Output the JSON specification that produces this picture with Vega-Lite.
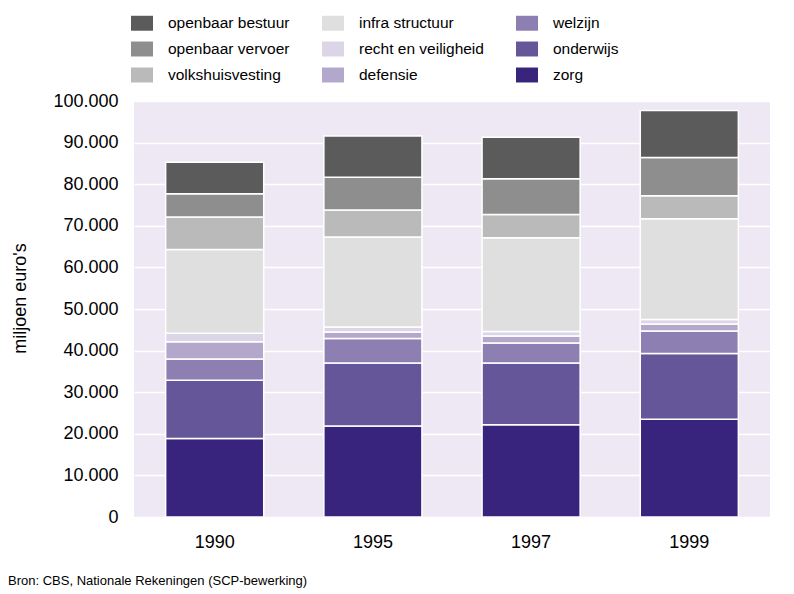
{
  "$schema": "https://vega.github.io/schema/vega-lite/v6.json",
  "width": 636,
  "height": 416,
  "autosize": "none",
  "padding": {"left": 134, "top": 101, "right": 24, "bottom": 77},
  "background": "white",
  "title": {
    "text": "Bron: CBS, Nationale Rekeningen (SCP-bewerking)",
    "orient": "bottom",
    "anchor": "start",
    "frame": "group",
    "dx": -126,
    "offset": 24,
    "font": "Liberation Sans",
    "fontSize": 13,
    "fontWeight": "normal",
    "color": "#000000"
  },
  "data": {
    "values": [
      {"jaar": "1990", "categorie": "zorg", "waarde": 18900, "volgorde": 1},
      {"jaar": "1990", "categorie": "onderwijs", "waarde": 14000, "volgorde": 2},
      {"jaar": "1990", "categorie": "welzijn", "waarde": 5100, "volgorde": 3},
      {"jaar": "1990", "categorie": "defensie", "waarde": 4100, "volgorde": 4},
      {"jaar": "1990", "categorie": "recht en veiligheid", "waarde": 2100, "volgorde": 5},
      {"jaar": "1990", "categorie": "infra structuur", "waarde": 20100, "volgorde": 6},
      {"jaar": "1990", "categorie": "volkshuisvesting", "waarde": 7800, "volgorde": 7},
      {"jaar": "1990", "categorie": "openbaar vervoer", "waarde": 5600, "volgorde": 8},
      {"jaar": "1990", "categorie": "openbaar bestuur", "waarde": 7600, "volgorde": 9},
      {"jaar": "1995", "categorie": "zorg", "waarde": 21900, "volgorde": 1},
      {"jaar": "1995", "categorie": "onderwijs", "waarde": 15100, "volgorde": 2},
      {"jaar": "1995", "categorie": "welzijn", "waarde": 5900, "volgorde": 3},
      {"jaar": "1995", "categorie": "defensie", "waarde": 1600, "volgorde": 4},
      {"jaar": "1995", "categorie": "recht en veiligheid", "waarde": 1200, "volgorde": 5},
      {"jaar": "1995", "categorie": "infra structuur", "waarde": 21600, "volgorde": 6},
      {"jaar": "1995", "categorie": "volkshuisvesting", "waarde": 6500, "volgorde": 7},
      {"jaar": "1995", "categorie": "openbaar vervoer", "waarde": 7900, "volgorde": 8},
      {"jaar": "1995", "categorie": "openbaar bestuur", "waarde": 9900, "volgorde": 9},
      {"jaar": "1997", "categorie": "zorg", "waarde": 22200, "volgorde": 1},
      {"jaar": "1997", "categorie": "onderwijs", "waarde": 14800, "volgorde": 2},
      {"jaar": "1997", "categorie": "welzijn", "waarde": 4800, "volgorde": 3},
      {"jaar": "1997", "categorie": "defensie", "waarde": 1700, "volgorde": 4},
      {"jaar": "1997", "categorie": "recht en veiligheid", "waarde": 1100, "volgorde": 5},
      {"jaar": "1997", "categorie": "infra structuur", "waarde": 22500, "volgorde": 6},
      {"jaar": "1997", "categorie": "volkshuisvesting", "waarde": 5600, "volgorde": 7},
      {"jaar": "1997", "categorie": "openbaar vervoer", "waarde": 8600, "volgorde": 8},
      {"jaar": "1997", "categorie": "openbaar bestuur", "waarde": 10000, "volgorde": 9},
      {"jaar": "1999", "categorie": "zorg", "waarde": 23500, "volgorde": 1},
      {"jaar": "1999", "categorie": "onderwijs", "waarde": 15800, "volgorde": 2},
      {"jaar": "1999", "categorie": "welzijn", "waarde": 5400, "volgorde": 3},
      {"jaar": "1999", "categorie": "defensie", "waarde": 1700, "volgorde": 4},
      {"jaar": "1999", "categorie": "recht en veiligheid", "waarde": 1100, "volgorde": 5},
      {"jaar": "1999", "categorie": "infra structuur", "waarde": 24200, "volgorde": 6},
      {"jaar": "1999", "categorie": "volkshuisvesting", "waarde": 5500, "volgorde": 7},
      {"jaar": "1999", "categorie": "openbaar vervoer", "waarde": 9200, "volgorde": 8},
      {"jaar": "1999", "categorie": "openbaar bestuur", "waarde": 11300, "volgorde": 9}
    ]
  },
  "mark": {"type": "bar", "stroke": "#ffffff", "strokeWidth": 1.5},
  "encoding": {
    "x": {
      "field": "jaar",
      "type": "ordinal",
      "scale": {"paddingInner": 0.38, "paddingOuter": 0.2},
      "axis": {
        "title": null,
        "labelAngle": 0,
        "labelFont": "Liberation Sans",
        "labelFontSize": 18,
        "labelColor": "#000000",
        "labelPadding": 16,
        "ticks": false,
        "domain": false
      }
    },
    "y": {
      "field": "waarde",
      "type": "quantitative",
      "stack": "zero",
      "scale": {"domain": [0, 100000], "nice": false},
      "axis": {
        "title": "miljoen euro's",
        "titleFont": "Liberation Sans",
        "titleFontSize": 18,
        "titleFontWeight": "normal",
        "titleColor": "#000000",
        "titleX": -114,
        "titleY": 197,
        "titleAngle": -90,
        "titleAlign": "center",
        "titleBaseline": "middle",
        "values": [0, 10000, 20000, 30000, 40000, 50000, 60000, 70000, 80000, 90000, 100000],
        "labelExpr": "replace(format(datum.value, ','), ',', '.')",
        "labelFont": "Liberation Sans",
        "labelFontSize": 18,
        "labelColor": "#000000",
        "labelPadding": 16,
        "ticks": false,
        "domain": false,
        "grid": true,
        "gridColor": "#ffffff",
        "gridWidth": 1.5,
        "gridOpacity": 1
      }
    },
    "color": {
      "field": "categorie",
      "type": "nominal",
      "scale": {
        "domain": ["openbaar bestuur", "openbaar vervoer", "volkshuisvesting", "infra structuur", "recht en veiligheid", "defensie", "welzijn", "onderwijs", "zorg"],
        "range": ["#5b5b5b", "#8e8e8e", "#bababa", "#dfdfdf", "#dcd5e8", "#b3a8cc", "#8e7fb3", "#655699", "#38247c"]
      },
      "legend": {
        "title": null,
        "orient": "none",
        "legendX": -3,
        "legendY": -89,
        "columns": 3,
        "columnPadding": 32,
        "rowPadding": 6,
        "padding": 0,
        "symbolType": "M-1,-0.68H1V0.68H-1Z",
        "symbolSize": 484,
        "symbolStrokeWidth": 0,
        "symbolOpacity": 1,
        "labelOffset": 15,
        "labelFont": "Liberation Sans",
        "labelFontSize": 15.5,
        "labelColor": "#000000",
        "labelLimit": 300
      }
    },
    "order": {"field": "volgorde", "type": "quantitative", "sort": "ascending"}
  },
  "config": {
    "view": {"fill": "#ede8f3", "stroke": null}
  }
}
